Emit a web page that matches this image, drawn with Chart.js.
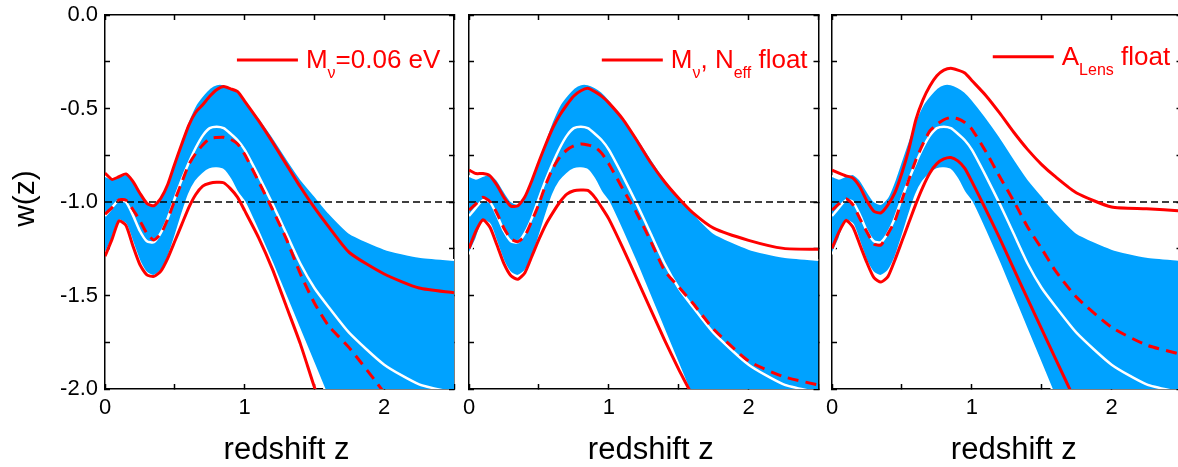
<!DOCTYPE html>
<html>
<head>
<meta charset="utf-8">
<title>w(z) reconstruction</title>
<script src="https://cdn.jsdelivr.net/npm/chart.js@4.4.1/dist/chart.umd.min.js"></script>
<style>
  html, body { margin: 0; padding: 0; background: #fff; }
  #wrap { position: relative; width: 1178px; height: 467px; overflow: hidden; }
  #wrap canvas { position: absolute; left: 0; top: 0; }
</style>
</head>
<body>
<div id="wrap">
  <canvas id="panelMnu" width="1182" height="467"></canvas>
  <canvas id="panelNeff" width="1182" height="467"></canvas>
  <canvas id="panelAlens" width="1182" height="467"></canvas>
</div>
<script>
// ---- data ---------------------------------------------------------------
const redshift = [0, 0.05, 0.1, 0.15, 0.2, 0.25, 0.3, 0.35, 0.4, 0.45, 0.5, 0.55, 0.6, 0.65, 0.7,
  0.75, 0.8, 0.85, 0.9, 0.95, 1.0, 1.1, 1.2, 1.3, 1.4, 1.5, 1.6, 1.75, 2.0, 2.25, 2.5];

// baseline reconstruction: 95% band and its mean (shared by all panels)
const bandUpper = [-0.86, -0.875, -0.86, -0.85, -0.88, -0.94, -0.995, -1.01, -0.97, -0.88, -0.77, -0.66,
  -0.56, -0.48, -0.43, -0.39, -0.37, -0.37, -0.385, -0.41, -0.45, -0.545, -0.65, -0.765, -0.875, -0.965,
  -1.055, -1.165, -1.25, -1.293, -1.31];
const bandLower = [-1.28, -1.2, -1.1, -1.12, -1.22, -1.32, -1.38, -1.395, -1.37, -1.3, -1.19, -1.07,
  -0.96, -0.89, -0.85, -0.825, -0.82, -0.83, -0.88, -0.95, -1.0, -1.16, -1.33, -1.51, -1.69, -1.87,
  -2.05, -2.3, -2.75, -3.2, -3.65];
const baseMean = [-1.075, -1.03, -0.99, -1.0, -1.07, -1.155, -1.21, -1.215, -1.165, -1.085, -0.98, -0.88,
  -0.79, -0.71, -0.645, -0.605, -0.597, -0.605, -0.635, -0.67, -0.72, -0.86, -1.01, -1.17, -1.33, -1.46,
  -1.56, -1.70, -1.87, -1.975, -2.02];

// M_nu = 0.06 eV
const mnuUpper = [-0.845, -0.879, -0.865, -0.85, -0.89, -0.953, -1.007, -1.02, -0.98, -0.905, -0.795, -0.69,
  -0.59, -0.52, -0.48, -0.435, -0.40, -0.383, -0.395, -0.41, -0.46, -0.565, -0.68, -0.80, -0.92, -1.03,
  -1.13, -1.27, -1.385, -1.46, -1.485];
const mnuLower = [-1.29, -1.2, -1.1, -1.125, -1.235, -1.335, -1.39, -1.398, -1.37, -1.3, -1.21, -1.12,
  -1.03, -0.96, -0.915, -0.9, -0.895, -0.897, -0.93, -0.975, -1.045, -1.19, -1.36, -1.56, -1.76, -1.99,
  -2.2, -2.5, -3.0, -3.5, -4.0];
const mnuMean = [-1.065, -1.03, -0.988, -0.99, -1.04, -1.1, -1.168, -1.203, -1.17, -1.09, -0.99, -0.895,
  -0.80, -0.74, -0.695, -0.66, -0.655, -0.654, -0.665, -0.69, -0.745, -0.89, -1.04, -1.2, -1.385, -1.54,
  -1.66, -1.78, -2.02, -2.3, -2.5];

// M_nu and N_eff free
const neffUpper = [-0.829, -0.848, -0.848, -0.86, -0.91, -0.975, -1.022, -1.02, -0.972, -0.885, -0.785, -0.69,
  -0.603, -0.535, -0.48, -0.433, -0.405, -0.392, -0.41, -0.435, -0.47, -0.557, -0.67, -0.79, -0.893, -0.98,
  -1.057, -1.14, -1.205, -1.248, -1.253];
const neffLower = [-1.248, -1.155, -1.095, -1.135, -1.23, -1.33, -1.395, -1.413, -1.378, -1.29, -1.2, -1.12,
  -1.057, -1.0, -0.958, -0.94, -0.936, -0.938, -0.975, -1.03, -1.09, -1.245, -1.41, -1.575, -1.74, -1.895,
  -2.04, -2.3, -2.7, -3.1, -3.5];
const neffMean = [-1.043, -1.01, -0.975, -0.998, -1.06, -1.14, -1.197, -1.212, -1.18, -1.10, -1.01, -0.905,
  -0.82, -0.76, -0.722, -0.70, -0.69, -0.695, -0.706, -0.74, -0.795, -0.93, -1.06, -1.21, -1.368, -1.454,
  -1.54, -1.68, -1.85, -1.934, -1.979];

// A_Lens free
const alensUpper = [-0.829, -0.845, -0.86, -0.872, -0.92, -0.995, -1.05, -1.058, -1.015, -0.95, -0.845, -0.717,
  -0.56, -0.455, -0.38, -0.325, -0.295, -0.285, -0.295, -0.31, -0.35, -0.43, -0.525, -0.627, -0.72, -0.8,
  -0.866, -0.952, -1.027, -1.036, -1.048];
const alensLower = [-1.248, -1.16, -1.098, -1.135, -1.23, -1.325, -1.405, -1.428, -1.399, -1.31, -1.21, -1.11,
  -1.01, -0.92, -0.845, -0.795, -0.77, -0.762, -0.78, -0.82, -0.89, -1.04, -1.195, -1.357, -1.52, -1.68,
  -1.84, -2.08, -2.5, -2.9, -3.3];
const alensMean = [-1.043, -1.01, -0.982, -1.015, -1.09, -1.16, -1.225, -1.23, -1.17, -1.10, -0.99, -0.88,
  -0.775, -0.69, -0.62, -0.585, -0.56, -0.548, -0.555, -0.575, -0.61, -0.73, -0.865, -0.995, -1.135, -1.25,
  -1.37, -1.51, -1.67, -1.765, -1.815];

const cosmologicalConstant = -1;
const zRange = [0, 2.5];
const wRange = [-2, 0];
const xLabelValues = [0, 1, 2];
const yLabelValues = [0, -0.5, -1, -1.5, -2];

// ---- styling ------------------------------------------------------------
const FONT = "'Liberation Sans', Arial, Helvetica, sans-serif";
const INK = '#000';
const RED = '#ff0000';
const BAND = '#00a2ff';
Chart.defaults.font.family = FONT;
Chart.defaults.color = INK;

const CANVAS_W = 1182, CANVAS_H = 467;
const X_AXIS_H = 45;   // room under the frame for x tick labels
const Y_AXIS_W = 100;  // room left of the frame for y tick labels

const series = values => redshift.map((z, i) => ({ x: z, y: values[i] }));

function panelDatasets(upper, lower, mean) {
  const common = { pointRadius: 0, tension: 0.2, clip: 0, fill: false };
  return [
    { ...common, label: 'upper', data: series(upper), borderColor: RED, borderWidth: 3, order: 1 },
    { ...common, label: 'lower', data: series(lower), borderColor: RED, borderWidth: 3, order: 2 },
    { ...common, label: 'mean', data: series(mean), borderColor: RED, borderWidth: 3, borderDash: [11, 7], order: 3 },
    { ...common, label: 'w = -1', tension: 0, borderColor: INK, borderWidth: 1.5, borderDash: [7, 4], order: 4,
      data: zRange.map(z => ({ x: z, y: cosmologicalConstant })) },
    { ...common, label: 'base mean', data: series(baseMean), borderColor: '#fff', borderWidth: 2.5, order: 5 },
    { ...common, label: 'band upper', data: series(bandUpper), borderColor: '#fff', borderWidth: 2,
      backgroundColor: BAND, fill: '+1', order: 7 },
    { ...common, label: 'band lower', data: series(bandLower), borderColor: '#fff', borderWidth: 2, order: 6 }
  ];
}

// fixed axis sizes so the frame position is set by layout padding alone
const fixedSize = (horizontal, size) => s => {
  if (horizontal) s.height = size; else s.width = size;
  s.paddingLeft = s.paddingRight = s.paddingTop = s.paddingBottom = 0;
};
const tickGrid = { drawOnChartArea: false, tickLength: -5, tickColor: INK, tickWidth: 1.5 };
const frame = { display: true, color: INK, width: 1.5 };
const isLabelled = (list, v) => list.some(t => Math.abs(t - v) < 1e-9);

function buildScales(showYLabels) {
  const xBase = { type: 'linear', min: zRange[0], max: zRange[1], grid: tickGrid, border: frame };
  const yBase = { type: 'linear', min: wRange[0], max: wRange[1], grid: tickGrid, border: frame };
  return {
    x: { ...xBase, position: 'bottom', afterFit: fixedSize(true, X_AXIS_H),
      ticks: { stepSize: 0.5, autoSkip: false, maxRotation: 0, padding: 11, color: INK, font: { size: 22 },
        callback: v => isLabelled(xLabelValues, v) ? String(v) : '' } },
    xTop: { ...xBase, position: 'top', afterFit: fixedSize(true, 0),
      ticks: { stepSize: 0.5, autoSkip: false, display: false } },
    y: { ...yBase, position: 'left', afterFit: fixedSize(false, showYLabels ? Y_AXIS_W : 0),
      ticks: { stepSize: 0.25, autoSkip: false, padding: 12, display: showYLabels, color: INK, font: { size: 22 },
        callback: v => isLabelled(yLabelValues, v) ? v.toFixed(1) : '' } },
    yRight: { ...yBase, position: 'right', afterFit: fixedSize(false, 0),
      ticks: { stepSize: 0.25, autoSkip: false, display: false } }
  };
}

// axis titles and the in-panel legend entry
const panelDecor = {
  id: 'panelDecor',
  afterDraw(chart, args, opts) {
    const { ctx, chartArea: a, scales } = chart;
    ctx.save();
    ctx.fillStyle = INK;
    ctx.font = `31px ${FONT}`;
    ctx.textAlign = 'center';
    ctx.textBaseline = 'alphabetic';
    ctx.fillText(opts.xTitle, (a.left + a.right) / 2 + 7, a.bottom + 70);
    if (opts.yTitle) {
      ctx.save();
      ctx.translate(a.left - 71.5, (a.top + a.bottom) / 2 - 3.5);
      ctx.rotate(-Math.PI / 2);
      ctx.font = `30px ${FONT}`;
      ctx.fillText(opts.yTitle, 0, 0);
      ctx.restore();
    }
    const lx = scales.x.getPixelForValue(opts.legendAt[0]);
    const ly = scales.y.getPixelForValue(opts.legendAt[1]);
    ctx.strokeStyle = RED;
    ctx.lineWidth = 3;
    ctx.beginPath();
    ctx.moveTo(lx, ly);
    ctx.lineTo(lx + 61, ly);
    ctx.stroke();
    ctx.fillStyle = RED;
    ctx.textAlign = 'left';
    let tx = lx + 69;
    const base = ly + 8;
    for (const seg of opts.legendText) {
      ctx.font = seg.sub ? `16px ${FONT}` : `26px ${FONT}`;
      ctx.fillText(seg.t, tx, seg.sub ? base + 10 : base);
      tx += ctx.measureText(seg.t).width;
    }
    ctx.restore();
  }
};

function makePanel(id, frameBox, data, decor, showYLabels) {
  const leftRoom = showYLabels ? Y_AXIS_W : 0;
  return new Chart(document.getElementById(id), {
    type: 'line',
    data: { datasets: panelDatasets(data[0], data[1], data[2]) },
    options: {
      responsive: false,
      animation: false,
      devicePixelRatio: 1,
      events: [],
      layout: { padding: {
        left: frameBox[0] - leftRoom, right: CANVAS_W - frameBox[1],
        top: 15, bottom: CANVAS_H - 389 - X_AXIS_H } },
      plugins: { legend: { display: false }, tooltip: { enabled: false }, panelDecor: decor },
      scales: buildScales(showYLabels)
    },
    plugins: [panelDecor]
  });
}

makePanel('panelMnu', [105, 454], [mnuUpper, mnuLower, mnuMean], {
  xTitle: 'redshift z', yTitle: 'w(z)', legendAt: [0.945, -0.241],
  legendText: [{ t: 'M' }, { t: 'ν', sub: true }, { t: '=0.06 eV' }]
}, true);

makePanel('panelNeff', [469, 818.5], [neffUpper, neffLower, neffMean], {
  xTitle: 'redshift z', legendAt: [0.95, -0.241],
  legendText: [{ t: 'M' }, { t: 'ν', sub: true }, { t: ', N' }, { t: 'eff', sub: true }, { t: ' float' }]
}, false);

makePanel('panelAlens', [832, 1181.5], [alensUpper, alensLower, alensMean], {
  xTitle: 'redshift z', legendAt: [1.15, -0.223],
  legendText: [{ t: 'A' }, { t: 'Lens', sub: true }, { t: ' float' }]
}, false);
</script>
</body>
</html>
